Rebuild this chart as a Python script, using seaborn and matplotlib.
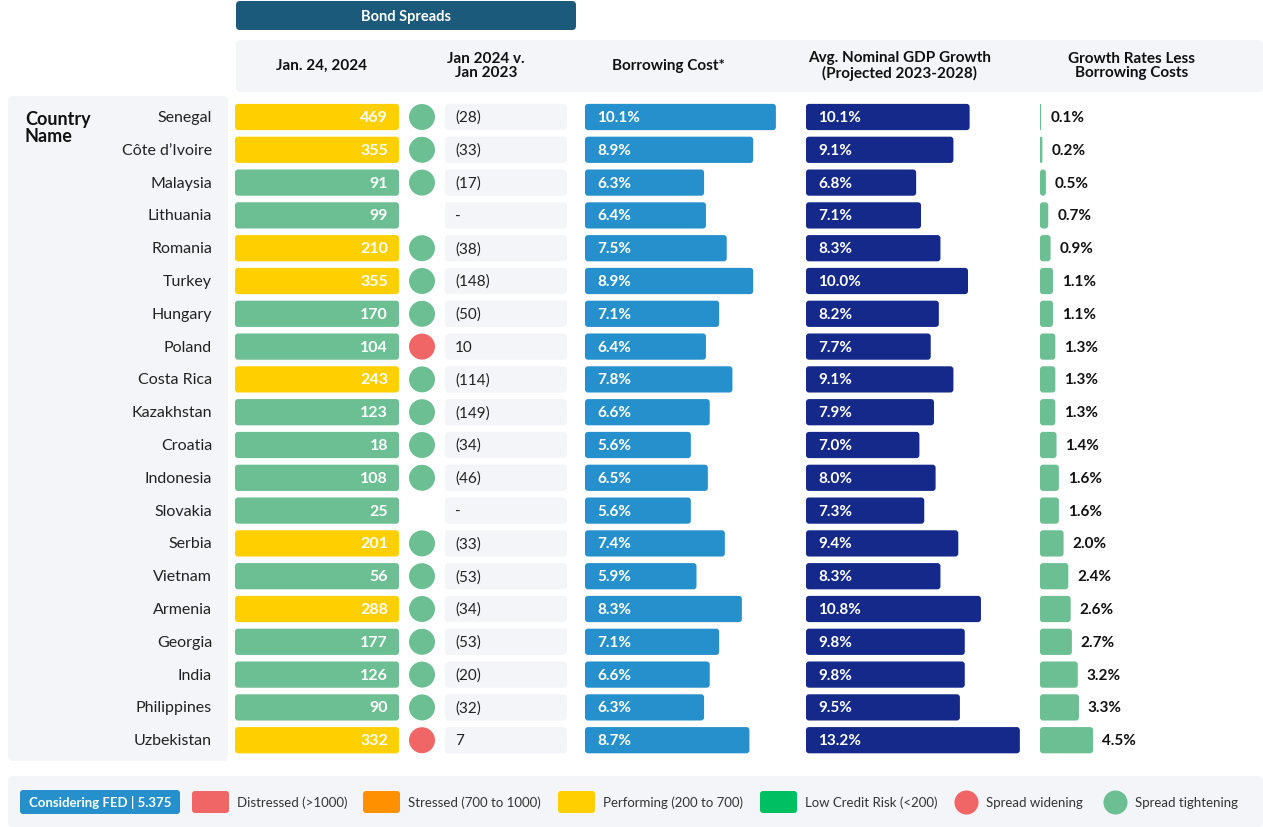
import matplotlib
matplotlib.use("Agg")
import matplotlib.pyplot as plt
from matplotlib import transforms
from matplotlib.patches import FancyBboxPatch
import numpy as np
import pandas as pd
import seaborn as sns

W, H = 1263, 828

countries = ["Senegal", "Côte d’Ivoire", "Malaysia", "Lithuania", "Romania", "Turkey",
             "Hungary", "Poland", "Costa Rica", "Kazakhstan", "Croatia", "Indonesia",
             "Slovakia", "Serbia", "Vietnam", "Armenia", "Georgia", "India",
             "Philippines", "Uzbekistan"]
spreads = [469, 355, 91, 99, 210, 355, 170, 104, 243, 123, 18, 108, 25, 201, 56, 288,
           177, 126, 90, 332]
# change vs Jan 2023 in bp, None = no data ("-")
spread_change = [-28, -33, -17, None, -38, -148, -50, 10, -114, -149, -34, -46, None,
                 -33, -53, -34, -53, -20, -32, 7]
borrowing_cost = [10.1, 8.9, 6.3, 6.4, 7.5, 8.9, 7.1, 6.4, 7.8, 6.6, 5.6, 6.5, 5.6, 7.4,
                  5.9, 8.3, 7.1, 6.6, 6.3, 8.7]
gdp_growth = [10.1, 9.1, 6.8, 7.1, 8.3, 10.0, 8.2, 7.7, 9.1, 7.9, 7.0, 8.0, 7.3, 9.4,
              8.3, 10.8, 9.8, 9.8, 9.5, 13.2]
growth_less_cost = [0.1, 0.2, 0.5, 0.7, 0.9, 1.1, 1.1, 1.3, 1.3, 1.3, 1.4, 1.6, 1.6, 2.0,
                    2.4, 2.6, 2.7, 3.2, 3.3, 4.5]

column_titles = ["Jan. 24, 2024", "Jan 2024 v.\nJan 2023", "Borrowing Cost*",
                 "Avg. Nominal GDP Growth\n(Projected 2023-2028)",
                 "Growth Rates Less\nBorrowing Costs"]
fed_note = "Considering FED | 5.375"
legend_items = [("Distressed (>1000)", "#f06565", "s"),
                ("Stressed (700 to 1000)", "#ff9000", "s"),
                ("Performing (200 to 700)", "#ffcf00", "s"),
                ("Low Credit Risk (<200)", "#00bf63", "s"),
                ("Spread widening", "#f06565", "o"),
                ("Spread tightening", "#6bbf92", "o")]

BAR_RISK = {"Distressed": "#f06565", "Stressed": "#ff9000",
            "Performing": "#ffcf00", "Low Credit Risk": "#6bbf92"}
DIR_COLORS = {"widening": "#f06565", "tightening": "#6bbf92"}
PANEL = "#f4f5f9"

sns.set_theme(style="white")
plt.rcParams["font.family"] = ["Lato", "DejaVu Sans"]

df = pd.DataFrame({
    "country": countries,
    "spread": spreads,
    "change": spread_change,
    "borrow": borrowing_cost,
    "gdp": gdp_growth,
    "less": growth_less_cost,
})
df["row"] = np.arange(len(df))
df["one"] = 1
df["risk"] = pd.cut(df["spread"], [-1, 200, 700, 1000, 1e6],
                    labels=["Low Credit Risk", "Performing", "Stressed", "Distressed"]).astype(str)
df["direction"] = np.where(df["change"] > 0, "widening", "tightening")
n = len(df)

fig = plt.figure(figsize=(W / 100, H / 100), dpi=100)
bg = fig.add_axes([0, 0, 1, 1])
bg.set_xlim(0, W)
bg.set_ylim(H, 0)
bg.axis("off")


def box(x0, y0, x1, y1, color, r=4):
    bg.add_patch(FancyBboxPatch((x0, y0), x1 - x0, y1 - y0,
                                boxstyle=f"round,pad=0,rounding_size={r}",
                                fc=color, ec="none"))


# panels and headers
box(8, 97, 228, 762, PANEL, 5)
box(236, 41, 1263, 93, PANEL, 5)
box(236, 2, 576, 31, "#1b5a7a", 4)
bg.text(406, 17, "Bond Spreads", color="white", fontsize=10.5, fontweight="bold",
        ha="center", va="center")
for cx, title in zip([321, 486, 668, 900, 1132], column_titles):
    bg.text(cx, 66, title, fontsize=11, fontweight="bold", ha="center", va="center",
            linespacing=1.0, color="#111111")
bg.text(25, 128, "Country\nName", fontsize=13, fontweight="bold", ha="left",
        va="center", linespacing=0.95, color="#111111")

# legend strip
box(8, 777, 1263, 828, PANEL, 5)
box(20, 791, 180, 815, "#2590cc", 3)
bg.text(100, 803, fed_note, color="white", fontsize=9.5, fontweight="bold",
        ha="center", va="center")
leg_x = [192, 363, 558, 760, 954, 1103]
for x, (label, color, kind) in zip(leg_x, legend_items):
    if kind == "s":
        box(x, 792, x + 37, 814, color, 3)
        bg.text(x + 45, 803, label, fontsize=9.5, ha="left", va="center", color="#333333")
    else:
        bg.scatter([x + 12], [803], s=300, color=color, linewidth=0)
        bg.text(x + 32, 803, label, fontsize=9.5, ha="left", va="center", color="#333333")

# row grid
ROW0, STEP = 118, 32.8
top = ROW0 - STEP / 2
bottom = ROW0 + STEP * (n - 0.5)


def col_ax(x0, x1):
    ax = fig.add_axes([x0 / W, 1 - bottom / H, (x1 - x0) / W, (bottom - top) / H])
    ax.set_facecolor("none")
    return ax


def finish(ax, xmax):
    ax.set_xlim(0, xmax)
    ax.set_ylim(n - 0.5, -0.5)
    ax.axis("off")


def round_bars(ax, r=3):
    to_px = ax.transData + bg.transData.inverted()
    for p in list(ax.patches):
        pts = to_px.transform([(p.get_x(), p.get_y()),
                               (p.get_x() + p.get_width(), p.get_y() + p.get_height())])
        x0, y0 = pts.min(axis=0)
        x1, y1 = pts.max(axis=0)
        w, h = x1 - x0, y1 - y0
        rr = min(r, w / 2, h / 2)
        ax.add_patch(FancyBboxPatch((x0, y0), w, h,
                                    boxstyle=f"round,pad=0,rounding_size={rr}",
                                    fc=p.get_facecolor(), ec="none",
                                    transform=bg.transData, clip_on=False))
        p.remove()


def shifted(ax, dx):
    return transforms.offset_copy(ax.transData, fig=fig, x=dx, y=0, units="dots")


# spread level column
ax_sp = col_ax(235, 399)
sns.barplot(data=df, x="one", y="row", hue="risk", palette=BAR_RISK, orient="h",
            dodge=False, width=0.8, saturation=1, legend=False, ax=ax_sp)
finish(ax_sp, 1)
round_bars(ax_sp)
for _, r in df.iterrows():
    ax_sp.text(1, r.row, f"{r.spread}", transform=shifted(ax_sp, -11), ha="right",
               va="center", color="white", fontsize=11.5, fontweight="bold")
    ax_sp.text(0, r.row, r.country, transform=shifted(ax_sp, -23), ha="right",
               va="center", color="#222222", fontsize=11.5)

# direction dots
ax_dot = col_ax(409, 435)
dots = df[df["change"].notna()].assign(x=0.5)
sns.scatterplot(data=dots, x="x", y="row", hue="direction", palette=DIR_COLORS,
                s=350, linewidth=0, legend=False, ax=ax_dot)
finish(ax_dot, 1)

# change cells
ax_ch = col_ax(445, 567)
sns.barplot(data=df, x="one", y="row", color=PANEL, orient="h", width=0.8,
            saturation=1, ax=ax_ch)
finish(ax_ch, 1)
round_bars(ax_ch, 4)
for _, r in df.iterrows():
    if pd.isna(r.change):
        label = "-"
    elif r.change < 0:
        label = f"({int(-r.change)})"
    else:
        label = f"{int(r.change)}"
    ax_ch.text(0, r.row, label, transform=shifted(ax_ch, 10), ha="left", va="center",
               color="#222222", fontsize=11)

# borrowing cost
ax_b = col_ax(585, 800)
sns.barplot(data=df, x="borrow", y="row", color="#2590cc", orient="h", width=0.8,
            saturation=1, ax=ax_b)
finish(ax_b, 215 / 18.9)
round_bars(ax_b)
for _, r in df.iterrows():
    ax_b.text(0, r.row, f"{r.borrow:.1f}%", transform=shifted(ax_b, 12), ha="left",
              va="center", color="white", fontsize=11, fontweight="bold")

# GDP growth
ax_g = col_ax(806, 1030)
sns.barplot(data=df, x="gdp", y="row", color="#14298a", orient="h", width=0.8,
            saturation=1, ax=ax_g)
finish(ax_g, 224 / 16.2)
round_bars(ax_g)
for _, r in df.iterrows():
    ax_g.text(0, r.row, f"{r.gdp:.1f}%", transform=shifted(ax_g, 12), ha="left",
              va="center", color="white", fontsize=11, fontweight="bold")

# growth less borrowing
ax_l = col_ax(1040, 1250)
sns.barplot(data=df, x="less", y="row", color="#6bbf92", orient="h", width=0.8,
            saturation=1, ax=ax_l)
finish(ax_l, 210 / 11.8)
round_bars(ax_l)
for _, r in df.iterrows():
    ax_l.text(r.less, r.row, f"{r.less:.1f}%", transform=shifted(ax_l, 9), ha="left",
              va="center", color="#111111", fontsize=11, fontweight="bold")

fig.savefig("out.png", dpi=100, facecolor="white")
